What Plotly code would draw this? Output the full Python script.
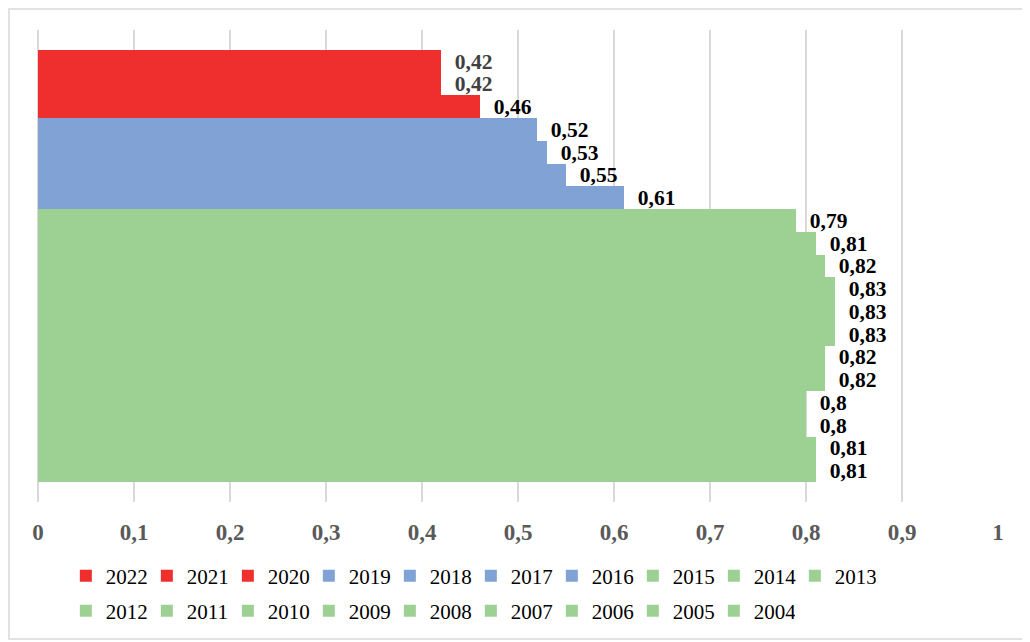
import plotly.graph_objects as go

years = [2022, 2021, 2020, 2019, 2018, 2017, 2016, 2015, 2014, 2013,
         2012, 2011, 2010, 2009, 2008, 2007, 2006, 2005, 2004]
values = [0.42, 0.42, 0.46, 0.52, 0.53, 0.55, 0.61, 0.79, 0.81, 0.82,
          0.83, 0.83, 0.83, 0.82, 0.82, 0.80, 0.80, 0.81, 0.81]
groups = ["red", "red", "red", "blue", "blue", "blue", "blue",
          "green", "green", "green", "green", "green", "green", "green",
          "green", "green", "green", "green", "green"]
x_ticks = [0, 0.1, 0.2, 0.3, 0.4, 0.5, 0.6, 0.7, 0.8, 0.9, 1]

colors = {"red": "#EF2F2D", "blue": "#80A2D5", "green": "#9DD093"}
label_colors = {2022: "#404040", 2021: "#404040"}

# plot area in figure pixels (page is offset by the 8px body margin)
L, T, W, H = 30, 22, 960, 472
FIG_W, FIG_H = 1030, 642


def px(xf):
    return (xf - L) / W


def py(yf):
    return (T + H - yf) / H


fig = go.Figure()
for i, (yr, v, g) in enumerate(zip(years, values, groups)):
    lbl = "\u00a0\u00a0" + ("%g" % v).replace(".", ",")
    fig.add_trace(go.Bar(
        y=[str(yr)], x=[v], orientation="h", name=str(yr),
        marker=dict(color=colors[g], line=dict(width=0)),
        text=[lbl], textposition="outside", constraintext="none",
        cliponaxis=False,
        textfont=dict(family="Liberation Serif", size=21.5,
                      color=label_colors.get(yr, "#000000"), weight="bold"),
        legend="legend" if i < 10 else "legend2",
        hoverinfo="x+name",
    ))

cat_order = [str(y) for y in sorted(years)]
leg_font = dict(family="Liberation Serif", size=21, color="#000000")

fig.update_layout(
    width=FIG_W, height=FIG_H,
    margin=dict(l=L, r=FIG_W - L - W, t=T, b=FIG_H - T - H),
    paper_bgcolor="white", plot_bgcolor="white",
    barmode="relative", bargap=0,
    separators=", ",
    showlegend=True,
    xaxis=dict(range=[0, 1], tickvals=x_ticks, showgrid=True,
               gridcolor="#D9D9D9", gridwidth=1.5, zeroline=True,
               zerolinecolor="#D9D9D9", zerolinewidth=1.5,
               showline=False, ticks="", ticklabelstandoff=14,
               tickfont=dict(family="Liberation Serif", size=23,
                             color="#595959", weight="bold"),
               fixedrange=True),
    yaxis=dict(type="category", categoryorder="array",
               categoryarray=cat_order, range=[-1.38, 19.38],
               showticklabels=False, showgrid=False, zeroline=False,
               ticks="", fixedrange=True),
    legend=dict(orientation="h", x=0.029, xanchor="left", y=-0.157,
                yanchor="middle", entrywidth=36, entrywidthmode="pixels",
                traceorder="normal", font=leg_font),
    legend2=dict(orientation="h", x=0.029, xanchor="left", y=-0.231,
                 yanchor="middle", entrywidth=36, entrywidthmode="pixels",
                 traceorder="normal", font=leg_font),
    shapes=[dict(type="rect", xref="paper", yref="paper",
                 x0=px(1), x1=px(1020), y0=py(631), y1=py(1),
                 line=dict(color="#D9D9D9", width=1.5), layer="below")],
)

fig.write_html("out.html")
